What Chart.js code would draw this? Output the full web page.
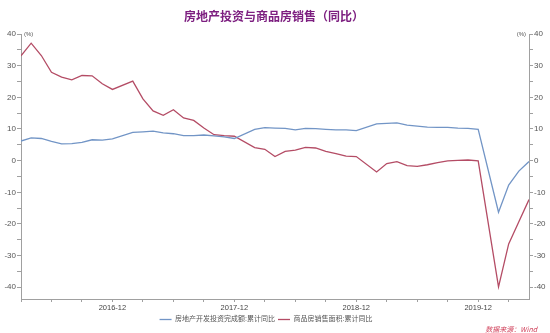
<!DOCTYPE html>
<html>
<head>
<meta charset="utf-8">
<script src="https://cdn.jsdelivr.net/npm/chart.js@4.4.1/dist/chart.umd.min.js"></script>
<style>
  html, body { margin: 0; padding: 0; background: #fff; }
  #wrap { width: 550px; height: 333px; }
</style>
</head>
<body>
<div id="wrap"><canvas id="chart"></canvas></div>
<script>
// 累计同比数据，1-2月合并公布，故每年从02开始
const months = [
  '2016-03','2016-04','2016-05','2016-06','2016-07','2016-08','2016-09','2016-10','2016-11','2016-12',
  '2017-02','2017-03','2017-04','2017-05','2017-06','2017-07','2017-08','2017-09','2017-10','2017-11','2017-12',
  '2018-02','2018-03','2018-04','2018-05','2018-06','2018-07','2018-08','2018-09','2018-10','2018-11','2018-12',
  '2019-02','2019-03','2019-04','2019-05','2019-06','2019-07','2019-08','2019-09','2019-10','2019-11','2019-12',
  '2020-02','2020-03','2020-04','2020-05'
];
const investYoY = [
  6.2, 7.2, 7.0, 6.1, 5.3, 5.4, 5.8, 6.6, 6.5, 6.9,
  8.9, 9.1, 9.3, 8.8, 8.5, 7.9, 7.9, 8.1, 7.8, 7.5, 7.0,
  9.9, 10.4, 10.3, 10.2, 9.7, 10.2, 10.1, 9.9, 9.7, 9.7, 9.5,
  11.6, 11.8, 11.9, 11.2, 10.9, 10.6, 10.5, 10.5, 10.3, 10.2, 9.9,
  -16.3, -7.7, -3.3, -0.3
];
const salesAreaYoY = [
  33.1, 37.1, 33.2, 27.9, 26.4, 25.5, 26.9, 26.8, 24.3, 22.5,
  25.1, 19.5, 15.7, 14.3, 16.1, 13.5, 12.7, 10.3, 8.2, 7.9, 7.7,
  4.1, 3.6, 1.3, 2.9, 3.3, 4.2, 4.0, 2.9, 2.2, 1.4, 1.3,
  -3.6, -0.9, -0.3, -1.6, -1.8, -1.3, -0.6, -0.1, 0.1, 0.2, -0.1,
  -39.9, -26.3, -19.3, -12.3
];
const seriesNames = ['房地产开发投资完成额:累计同比', '商品房销售面积:累计同比'];
const yTickLabels = [40, 30, 20, 10, 0, -10, -20, -30, -40];

// 月份转成序号（2016-01 = 1），横轴用线性刻度
const monthIndex = s => (parseInt(s.slice(0, 4)) - 2016) * 12 + parseInt(s.slice(5, 7));
const toPoints = vals => vals.map((v, i) => ({ x: monthIndex(months[i]), y: v }));

const FONT = '"Liberation Sans", "Noto Sans CJK SC", sans-serif';
const axisGray = '#a0a0a0';

// 标题、单位和数据来源
const extraText = {
  id: 'extraText',
  afterLayout(chart) {
    // 图例整体略偏左
    chart.legend.left -= 9;
    chart.legend.right -= 9;
  },
  afterDraw(chart) {
    const { ctx, chartArea } = chart;
    ctx.save();
    ctx.textBaseline = 'middle';
    ctx.textAlign = 'center';
    ctx.fillStyle = '#7d1f80';
    ctx.font = 'bold 12px "Noto Sans CJK SC", sans-serif';
    ctx.fillText('房地产投资与商品房销售（同比）', 274, 16);

    ctx.fillStyle = '#555';
    ctx.font = '6px ' + FONT;
    ctx.textAlign = 'left';
    ctx.fillText('(%)', chartArea.left + 3, chartArea.top);
    ctx.textAlign = 'right';
    ctx.fillText('(%)', chartArea.right - 3, chartArea.top);

    ctx.fillStyle = '#d0405a';
    ctx.font = 'italic 7px "Noto Sans CJK SC", "Liberation Sans", sans-serif';
    ctx.fillText('数据来源：Wind', 537, 329);
    ctx.restore();
  }
};

const yScale = (pos) => ({
  type: 'linear',
  position: pos,
  min: -43.7,
  max: 40,
  border: { color: axisGray, width: 1 },
  grid: { drawOnChartArea: false, tickLength: 4, tickColor: axisGray },
  ticks: {
    stepSize: 5,
    includeBounds: false,
    padding: 1,
    color: '#555',
    font: { family: FONT, size: 8 },
    callback: v => yTickLabels.includes(v) ? v : ''
  },
  afterFit(s) { s.width = 21; }
});

let chart = document.getElementById('chart').getContext('2d');
let estateChart = new Chart(chart, {
  type: 'line',
  data: {
    datasets: [{
      label: seriesNames[0],
      data: toPoints(investYoY),
      borderColor: '#7295c6',
      backgroundColor: '#7295c6',
      borderWidth: 1.3,
      pointRadius: 0,
      tension: 0,
      yAxisID: 'y'
    }, {
      label: seriesNames[1],
      data: toPoints(salesAreaYoY),
      borderColor: '#b44c65',
      backgroundColor: '#b44c65',
      borderWidth: 1.3,
      pointRadius: 0,
      tension: 0,
      yAxisID: 'y'
    }]
  },
  options: {
    responsive: true,
    maintainAspectRatio: false,
    animation: false,
    layout: { padding: { top: 34, left: 0, right: 0, bottom: 0 } },
    scales: {
      x: {
        type: 'linear',
        min: monthIndex(months[0]),
        max: monthIndex(months[months.length - 1]),
        border: { color: axisGray, width: 1 },
        grid: { drawOnChartArea: false, tickLength: 3, tickColor: axisGray },
        ticks: {
          stepSize: 3,
          includeBounds: false,
          autoSkip: false,
          maxRotation: 0,
          padding: 1,
          color: '#444',
          font: { family: FONT, size: 7.5 },
          callback: v => v % 12 === 0 ? (2015 + v / 12) + '-12' : ''
        }
      },
      y: yScale('left'),
      y2: yScale('right')
    },
    plugins: {
      title: { display: false },
      legend: {
        position: 'bottom',
        labels: {
          usePointStyle: true,
          pointStyle: 'line',
          pointStyleWidth: 12,
          boxHeight: 7,
          padding: 3,
          color: '#555',
          font: { family: FONT, size: 7 }
        }
      },
      tooltip: { enabled: false }
    }
  },
  plugins: [extraText]
});
</script>
</body>
</html>
